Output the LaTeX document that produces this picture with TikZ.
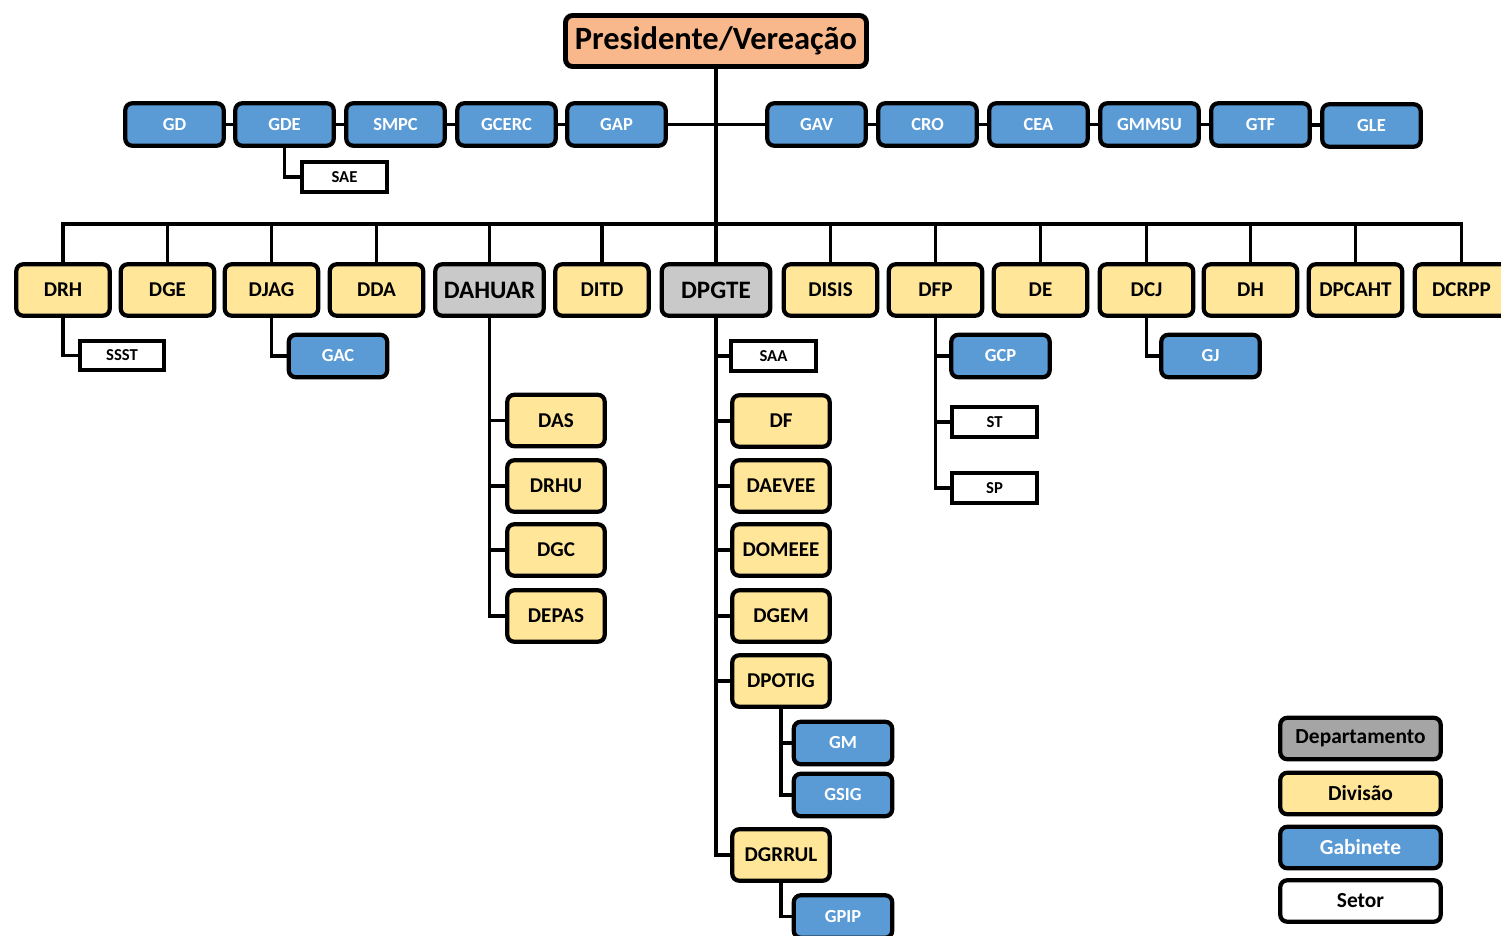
\documentclass[tikz,border=0pt]{standalone}
\usepackage{fontspec}
\setmainfont{Carlito}
\usepackage{tikz}

\definecolor{presorange}{HTML}{F8B88C}
\definecolor{gabblue}{HTML}{5B9BD5}
\definecolor{divyellow}{HTML}{FFE699}
\definecolor{depgray}{HTML}{C9C9C9}
\definecolor{leggray}{HTML}{A5A5A5}

\begin{document}
\begin{tikzpicture}[x=0.02cm, y=-0.02cm,
		box/.style={draw, line width=2.4pt, rounded corners=4pt, font=\bfseries},
		pres/.style={box, line width=2.8pt, fill=presorange, minimum width=6.02cm, minimum height=1.02cm, font=\fontsize{18.5}{21}\selectfont\bfseries},
		gab/.style={box, fill=gabblue, text=white, minimum width=1.97cm, minimum height=0.85cm, font=\fontsize{10.5}{12}\selectfont\bfseries},
		div/.style={box, fill=divyellow, minimum width=1.87cm, minimum height=1.03cm, font=\fontsize{12}{14}\selectfont\bfseries},
		dep/.style={div, fill=depgray, minimum width=2.17cm, font=\fontsize{14.3}{16}\selectfont\bfseries},
		setor/.style={draw, line width=2.4pt, fill=white, minimum width=1.69cm, minimum height=0.59cm, font=\fontsize{9.5}{11}\selectfont\bfseries},
		legbox/.style={box, minimum width=3.21cm, minimum height=0.83cm, font=\fontsize{12.2}{14}\selectfont\bfseries},
		conn/.style={line width=2.2pt}]
		\useasboundingbox (0, 0) rectangle (1501, 936);
		\clip (0, 0) rectangle (1501, 936);

		% presidente
		\node[pres] (pres) at (716, 41) {Presidente/Vereação};

		% gabinetes
		\node[gab] (gd) at (174.5, 124.5) {GD};
		\node[gab] (gde) at (284.5, 124.5) {GDE};
		\node[gab] (smpc) at (395.5, 124.5) {SMPC};
		\node[gab] (gcerc) at (506.5, 124.5) {GCERC};
		\node[gab] (gap) at (616.5, 124.5) {GAP};
		\node[gab] (gav) at (816.5, 124.5) {GAV};
		\node[gab] (cro) at (927.5, 124.5) {CRO};
		\node[gab] (cea) at (1038.5, 124.5) {CEA};
		\node[gab] (gmmsu) at (1149.5, 124.5) {GMMSU};
		\node[gab] (gtf) at (1260.5, 124.5) {GTF};
		\node[gab] (gle) at (1371.5, 125.5) {GLE};
		\node[setor] (sae) at (344.5, 177) {SAE};

		% divisoes e departamentos
		\node[div] (drh) at (63, 290) {DRH};
		\node[div] (dge) at (167.5, 290) {DGE};
		\node[div] (djag) at (271.5, 290) {DJAG};
		\node[div] (dda) at (376.5, 290) {DDA};
		\node[dep] (dahuar) at (489.5, 290) {DAHUAR};
		\node[div] (ditd) at (602, 290) {DITD};
		\node[dep] (dpgte) at (716, 290) {DPGTE};
		\node[div] (disis) at (830.5, 290) {DISIS};
		\node[div] (dfp) at (935.5, 290) {DFP};
		\node[div] (de) at (1040.5, 290) {DE};
		\node[div] (dcj) at (1146.5, 290) {DCJ};
		\node[div] (dh) at (1250.5, 290) {DH};
		\node[div] (dpcaht) at (1355.5, 290) {DPCAHT};
		\node[div] (dcrpp) at (1461.5, 290) {DCRPP};
		\coordinate (bus) at (716, 224);

		% subordinados
		\node[setor] (ssst) at (122, 355.5) {SSST};
		\node[gab] (gac) at (338, 356) {GAC};
		\node[div, minimum width=1.95cm] (das) at (556, 420.5) {DAS};
		\node[div, minimum width=1.95cm] (drhu) at (556, 486) {DRHU};
		\node[div, minimum width=1.95cm] (dgc) at (556, 550) {DGC};
		\node[div, minimum width=1.95cm] (depas) at (556, 616) {DEPAS};
		\node[setor] (saa) at (773.5, 356) {SAA};
		\node[div, minimum width=1.95cm] (df) at (781, 421) {DF};
		\node[div, minimum width=1.95cm] (daevee) at (781, 486) {DAEVEE};
		\node[div, minimum width=1.95cm] (domeee) at (781, 550) {DOMEEE};
		\node[div, minimum width=1.95cm] (dgem) at (781, 616) {DGEM};
		\node[div, minimum width=1.95cm] (dpotig) at (781, 681) {DPOTIG};
		\node[div, minimum width=1.95cm] (dgrrul) at (781, 855) {DGRRUL};
		\node[gab] (gm) at (843, 743) {GM};
		\node[gab] (gsig) at (843, 795) {GSIG};
		\node[gab] (gpip) at (843, 916.5) {GPIP};
		\node[gab] (gcp) at (1000.5, 356) {GCP};
		\node[setor] (st) at (994.5, 422) {ST};
		\node[setor] (sp) at (994.5, 488) {SP};
		\node[gab] (gj) at (1210.5, 356) {GJ};

		% legenda
		\node[legbox, fill=leggray] (legdep) at (1360.5, 738.5) {Departamento};
		\node[legbox, fill=divyellow] (legdiv) at (1360.5, 793.5) {Divisão};
		\node[legbox, fill=gabblue, text=white] (leggab) at (1360.5, 847.5) {Gabinete};
		\node[legbox, fill=white] (legset) at (1360.5, 901) {Setor};

		% ligacoes
		\draw[conn] (pres.south) -- (dpgte.north);
		\draw[conn] (gd) -- (gde);
		\draw[conn] (gde) -- (smpc);
		\draw[conn] (smpc) -- (gcerc);
		\draw[conn] (gcerc) -- (gap);
		\draw[conn] (gap) -- (gav);
		\draw[conn] (gav) -- (cro);
		\draw[conn] (cro) -- (cea);
		\draw[conn] (cea) -- (gmmsu);
		\draw[conn] (gmmsu) -- (gtf);
		\draw[conn] (gtf) -- (gle);
		\draw[conn] (gde.south) |- (sae.west);

		\draw[conn] (drh.north) -- (drh.north |- bus) -- (dcrpp.north |- bus) -- (dcrpp.north);
		\draw[conn] (dge.north) -- (dge.north |- bus);
		\draw[conn] (djag.north) -- (djag.north |- bus);
		\draw[conn] (dda.north) -- (dda.north |- bus);
		\draw[conn] (dahuar.north) -- (dahuar.north |- bus);
		\draw[conn] (ditd.north) -- (ditd.north |- bus);
		\draw[conn] (disis.north) -- (disis.north |- bus);
		\draw[conn] (dfp.north) -- (dfp.north |- bus);
		\draw[conn] (de.north) -- (de.north |- bus);
		\draw[conn] (dcj.north) -- (dcj.north |- bus);
		\draw[conn] (dh.north) -- (dh.north |- bus);
		\draw[conn] (dpcaht.north) -- (dpcaht.north |- bus);

		\draw[conn] (drh.south) |- (ssst.west);
		\draw[conn] (djag.south) |- (gac.west);
		\draw[conn] (dahuar.south) |- (das.west);
		\draw[conn] (dahuar.south) |- (drhu.west);
		\draw[conn] (dahuar.south) |- (dgc.west);
		\draw[conn] (dahuar.south) |- (depas.west);
		\draw[conn] (dpgte.south) |- (saa.west);
		\draw[conn] (dpgte.south) |- (df.west);
		\draw[conn] (dpgte.south) |- (daevee.west);
		\draw[conn] (dpgte.south) |- (domeee.west);
		\draw[conn] (dpgte.south) |- (dgem.west);
		\draw[conn] (dpgte.south) |- (dpotig.west);
		\draw[conn] (dpgte.south) |- (dgrrul.west);
		\draw[conn] (dpotig.south) |- (gm.west);
		\draw[conn] (dpotig.south) |- (gsig.west);
		\draw[conn] (dgrrul.south) |- (gpip.west);
		\draw[conn] (dfp.south) |- (gcp.west);
		\draw[conn] (dfp.south) |- (st.west);
		\draw[conn] (dfp.south) |- (sp.west);
		\draw[conn] (dcj.south) |- (gj.west);
	\end{tikzpicture}
\end{document}
